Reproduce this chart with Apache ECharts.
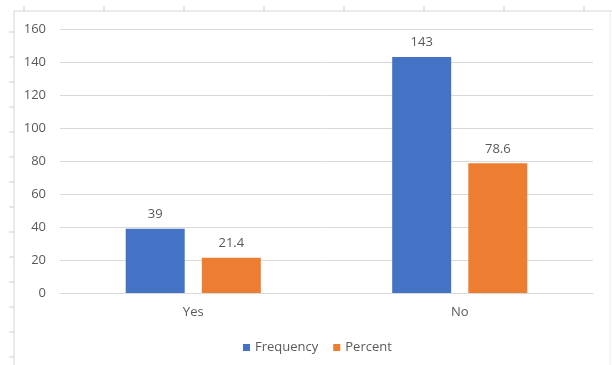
<!DOCTYPE html>
<html>
<head>
<meta charset="utf-8">
<script src="https://cdn.jsdelivr.net/npm/echarts@6/dist/echarts.min.js"></script>
<style>
  html, body { margin: 0; padding: 0; background: #fff; }
  #chart { width: 612px; height: 365px; }
</style>
</head>
<body>
<div id="chart"></div>
<script>
// Survey answers and their counts / shares
const categories = ['Yes', 'No'];
const frequency = [39, 143];
const percent = [21.4, 78.6];
const yTicks = { min: 0, max: 160, interval: 20 };

const FONT = '"Open Sans", "Noto Sans", sans-serif';
const TEXT = '#595959';

// Sheet cell border lines around the chart
const sheetMarks = [];
sheetMarks.push({ type: 'line', shape: { x1: 14, y1: 11, x2: 612, y2: 11 }, style: { stroke: '#d6d6d6', lineWidth: 1 } });
sheetMarks.push({ type: 'line', shape: { x1: 14, y1: 11, x2: 14, y2: 365 }, style: { stroke: '#d6d6d6', lineWidth: 1 } });
sheetMarks.push({ type: 'line', shape: { x1: 610, y1: 11, x2: 610, y2: 365 }, style: { stroke: '#ececec', lineWidth: 1 } });
for (let x = 24; x < 612; x += 80) {
  sheetMarks.push({ type: 'line', shape: { x1: x, y1: 6, x2: x, y2: 11 }, style: { stroke: '#cfcfcf', lineWidth: 1 } });
}
for (let y = 32; y < 365; y += 25) {
  sheetMarks.push({ type: 'line', shape: { x1: 9, y1: y, x2: 14, y2: y }, style: { stroke: '#cfcfcf', lineWidth: 1 } });
}

const chart = echarts.init(document.getElementById('chart'), null, { renderer: 'canvas' });

const labelStyle = {
  show: true,
  position: 'top',
  distance: 8,
  color: TEXT,
  fontFamily: FONT,
  fontSize: 13
};

chart.setOption({
  animation: false,
  backgroundColor: '#ffffff',
  textStyle: { fontFamily: FONT },
  graphic: sheetMarks.map(m => Object.assign({ silent: true, z: -1 }, m)),
  grid: { left: 60, right: 19, top: 29, bottom: 72, containLabel: false },
  legend: {
    bottom: 6,
    left: 238,
    itemWidth: 7,
    itemHeight: 7,
    itemGap: 15,
    icon: 'rect',
    textStyle: { color: TEXT, fontFamily: FONT, fontSize: 13 },
    data: ['Frequency', 'Percent']
  },
  xAxis: {
    type: 'category',
    data: categories,
    axisLine: { show: true, lineStyle: { color: '#d9d9d9' } },
    axisTick: { show: false },
    axisLabel: { color: TEXT, fontFamily: FONT, fontSize: 13, margin: 13 }
  },
  yAxis: {
    type: 'value',
    min: yTicks.min,
    max: yTicks.max,
    interval: yTicks.interval,
    axisLine: { show: false },
    axisTick: { show: false },
    axisLabel: { color: TEXT, fontFamily: FONT, fontSize: 13, margin: 14 },
    splitLine: { lineStyle: { color: '#d9d9d9', width: 1 } }
  },
  series: [
    {
      name: 'Frequency',
      type: 'bar',
      data: frequency,
      barWidth: 59,
      barGap: '29%',
      itemStyle: { color: '#4472C4' },
      label: labelStyle
    },
    {
      name: 'Percent',
      type: 'bar',
      data: percent,
      barWidth: 59,
      itemStyle: { color: '#ED7D31' },
      label: labelStyle
    }
  ]
});
</script>
</body>
</html>
